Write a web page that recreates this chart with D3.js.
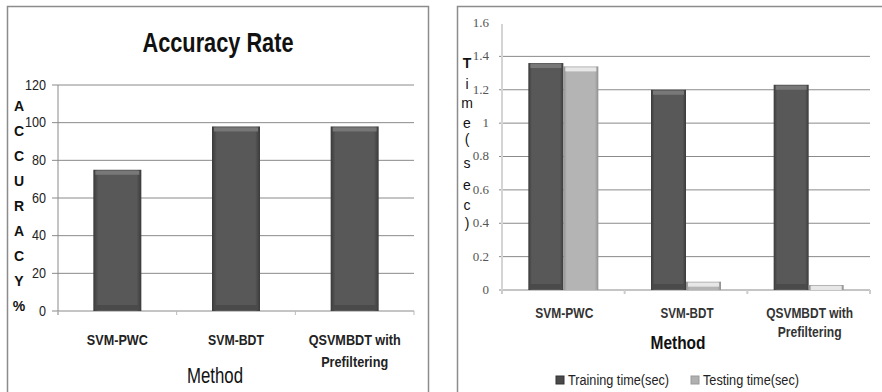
<!DOCTYPE html>
<html><head><meta charset="utf-8">
<script src="https://cdn.jsdelivr.net/npm/d3@7"></script>
<style>body{margin:0;background:#fff}svg{display:block}</style>
</head><body><svg id="c" width="882" height="392"></svg>
<script>
const accCategories = ["SVM-PWC", "SVM-BDT", "QSVMBDT with|Prefiltering"];
const accValues = [75, 98, 98];
const accTicks = [0, 20, 40, 60, 80, 100, 120];
const accAxisLetters = ["A","C","C","U","R","A","C","Y","%"];

const timeCategories = ["SVM-PWC", "SVM-BDT", "QSVMBDT with|Prefiltering"];
const seriesNames = ["Training time(sec)", "Testing time(sec)"];
const trainingTime = [1.36, 1.2, 1.23];
const testingTime = [1.34, 0.05, 0.03];
const timeTicks = [0, 0.2, 0.4, 0.6, 0.8, 1, 1.2, 1.4, 1.6];
const timeAxisLetters = ["T","i","m","e","(","s","e","c",")"];

const FONT = "Liberation Sans, Arial, sans-serif";
const svg = d3.select("#c");
const defs = svg.append("defs");
function grad(id, edge, mid){
  const g = defs.append("linearGradient").attr("id", id).attr("x1","0").attr("x2","1").attr("y1","0").attr("y2","0");
  g.append("stop").attr("offset","0").attr("stop-color", edge);
  g.append("stop").attr("offset","0.1").attr("stop-color", mid);
  g.append("stop").attr("offset","0.9").attr("stop-color", mid);
  g.append("stop").attr("offset","1").attr("stop-color", edge);
}
grad("gDark", "#3a3a3a", "#585858");
grad("gLight", "#909090", "#b4b4b4");

function drawBar(g, x, y, w, h, dark){
  g.append("rect").attr("x", x).attr("y", y).attr("width", w).attr("height", h)
    .attr("fill", dark ? "url(#gDark)" : "url(#gLight)");
  const cap = Math.min(4, h);
  g.append("rect").attr("x", x + 2).attr("y", y + 1).attr("width", w - 4).attr("height", cap)
    .attr("fill", dark ? "#7c7c7c" : "#ececec").attr("opacity", 0.9);
  if (dark && h > 12) {
    g.append("rect").attr("x", x + 2).attr("y", y + h - 6).attr("width", w - 4).attr("height", 5)
      .attr("fill", "#4a4a4a");
  }
}
function fit(sel, w){ return sel.attr("textLength", w).attr("lengthAdjust", "spacingAndGlyphs"); }

// ---------- Left panel ----------
svg.append("rect").attr("x", 7.5).attr("y", 6.5).attr("width", 421).attr("height", 400)
  .attr("fill", "none").attr("stroke", "#8c8c8c").attr("stroke-width", 1.5);

const L = svg.append("g");
const xL = d3.scaleBand().domain(accCategories).range([58, 414]);
const yL = d3.scaleLinear().domain([0, 120]).range([311, 85]);

L.selectAll("line.grid").data(accTicks).join("line")
  .attr("x1", 52).attr("x2", 414).attr("y1", d => yL(d)).attr("y2", d => yL(d))
  .attr("stroke", "#8a8a8a").attr("stroke-width", 1);
L.append("line").attr("x1", 58).attr("x2", 58).attr("y1", 85).attr("y2", 315).attr("stroke", "#8a8a8a");
L.selectAll("line.xt").data(d3.range(accCategories.length + 1)).join("line")
  .attr("x1", i => 58 + i * xL.bandwidth()).attr("x2", i => 58 + i * xL.bandwidth())
  .attr("y1", 311).attr("y2", 315).attr("stroke", "#bbb");

L.selectAll("text.yt").data(accTicks).join("text")
  .attr("x", 46).attr("y", d => yL(d) + 1).attr("text-anchor", "end").attr("dominant-baseline", "middle")
  .attr("font-family", FONT).attr("font-size", 14)
  .attr("textLength", d => String(d).length * 7).attr("lengthAdjust", "spacingAndGlyphs")
  .attr("fill", "#222").text(d => d);

L.selectAll("text.yl").data(accAxisLetters).join("text")
  .attr("x", 19).attr("y", (d, i) => 107 + i * 25).attr("text-anchor", "middle").attr("dominant-baseline", "middle")
  .attr("font-family", FONT).attr("font-weight", "bold").attr("font-size", 14)
  .attr("fill", "#111").text(d => d);

const barWL = 48;
accCategories.forEach((c, i) => {
  const cx = xL(c) + xL.bandwidth() / 2;
  drawBar(L, cx - barWL / 2, yL(accValues[i]), barWL, yL(0) - yL(accValues[i]), true);
});

const lWidths = [[61], [56], [92, 67]];
accCategories.forEach((c, i) => {
  c.split("|").forEach((t, j) => {
    fit(L.append("text").attr("x", xL(c) + xL.bandwidth() / 2).attr("y", 341 + j * 22)
      .attr("text-anchor", "middle").attr("dominant-baseline", "middle")
      .attr("font-family", FONT).attr("font-weight", "bold").attr("font-size", 15)
      .attr("fill", "#222").text(t), lWidths[i][j]);
  });
});
fit(L.append("text").attr("x", 215).attr("y", 377).attr("text-anchor", "middle").attr("dominant-baseline", "middle")
  .attr("font-family", FONT).attr("font-size", 22).attr("fill", "#111").text("Method"), 56);
fit(L.append("text").attr("x", 218).attr("y", 52).attr("text-anchor", "middle")
  .attr("font-family", FONT).attr("font-weight", "bold").attr("font-size", 28)
  .attr("fill", "#111").text("Accuracy Rate"), 151);

// ---------- Right panel ----------
svg.append("rect").attr("x", 457.5).attr("y", 6.5).attr("width", 440).attr("height", 400)
  .attr("fill", "none").attr("stroke", "#8c8c8c").attr("stroke-width", 1.5);

const R = svg.append("g");
const xR = d3.scaleBand().domain(timeCategories).range([502, 870]);
const yR = d3.scaleLinear().domain([0, 1.6]).range([290, 23]);

R.selectAll("line.grid").data(timeTicks.filter(d => d < 1.6)).join("line")
  .attr("x1", 499).attr("x2", 870).attr("y1", d => yR(d)).attr("y2", d => yR(d))
  .attr("stroke", "#8a8a8a").attr("stroke-width", 1);
R.append("line").attr("x1", 502).attr("x2", 502).attr("y1", 24).attr("y2", 293).attr("stroke", "#d4d4d4").attr("stroke-width", 2);
R.selectAll("line.xt").data(d3.range(timeCategories.length + 1)).join("line")
  .attr("x1", i => 502 + i * xR.bandwidth()).attr("x2", i => 502 + i * xR.bandwidth())
  .attr("y1", 290).attr("y2", 294).attr("stroke", "#ccc").attr("stroke-width", 2);

R.selectAll("text.yt").data(timeTicks).join("text")
  .attr("x", 489).attr("y", d => yR(d) + 1).attr("text-anchor", "end").attr("dominant-baseline", "middle")
  .attr("font-family", "Liberation Serif, serif").attr("font-size", 13)
  .attr("fill", "#555").text(d => d);

R.selectAll("text.yl").data(timeAxisLetters).join("text")
  .attr("x", 467).attr("y", (d, i) => [64, 85, 104, 124, 140, 164, 186, 206, 224][i])
  .attr("text-anchor", "middle").attr("dominant-baseline", "middle")
  .attr("font-family", FONT).attr("font-weight", (d, i) => i === 0 ? "bold" : "normal")
  .attr("font-size", 14).attr("fill", "#111").text(d => d);

const barWR = 35;
timeCategories.forEach((c, i) => {
  const cx = xR(c) + xR.bandwidth() / 2;
  drawBar(R, cx - barWR, yR(trainingTime[i]), barWR, yR(0) - yR(trainingTime[i]), true);
  drawBar(R, cx, yR(testingTime[i]), barWR, yR(0) - yR(testingTime[i]), false);
});

const rWidths = [[58], [53], [87, 64]];
timeCategories.forEach((c, i) => {
  c.split("|").forEach((t, j) => {
    fit(R.append("text").attr("x", xR(c) + xR.bandwidth() / 2 + 1).attr("y", 314 + j * 19)
      .attr("text-anchor", "middle").attr("dominant-baseline", "middle")
      .attr("font-family", FONT).attr("font-weight", "bold").attr("font-size", 14)
      .attr("fill", "#333").text(t), rWidths[i][j]);
  });
});
fit(R.append("text").attr("x", 678).attr("y", 344).attr("text-anchor", "middle").attr("dominant-baseline", "middle")
  .attr("font-family", FONT).attr("font-weight", "bold").attr("font-size", 19)
  .attr("fill", "#111").text("Method"), 55);

const legX = [556, 691];
const legW = [101, 96];
seriesNames.forEach((s, i) => {
  R.append("rect").attr("x", legX[i]).attr("y", 376).attr("width", 8).attr("height", 8)
    .attr("fill", i === 0 ? "#4a4a4a" : "#b0b0b0").attr("stroke", i === 0 ? "#333" : "#999");
  fit(R.append("text").attr("x", legX[i] + 12).attr("y", 381).attr("dominant-baseline", "middle")
    .attr("font-family", FONT).attr("font-size", 14)
    .attr("fill", "#222").text(s), legW[i]);
});
</script></body></html>
